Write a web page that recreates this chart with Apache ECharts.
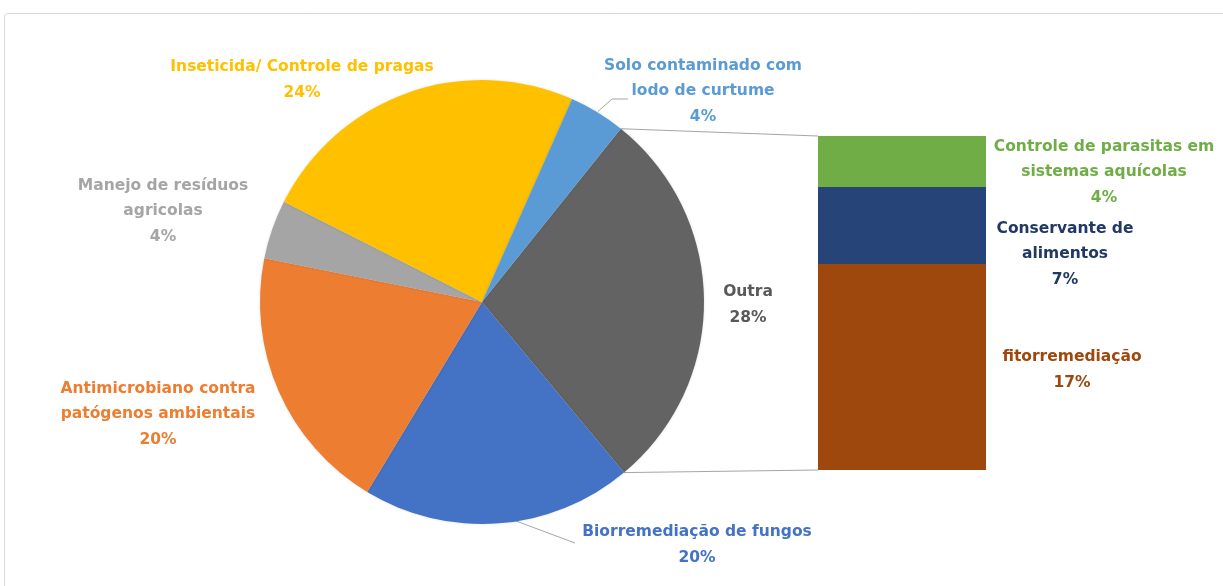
<!DOCTYPE html>
<html>
<head>
<meta charset="utf-8">
<script src="https://cdn.jsdelivr.net/npm/echarts@6/dist/echarts.min.js"></script>
<style>
html,body{margin:0;padding:0;background:#fff;}
#chart{width:1223px;height:586px;}
</style>
</head>
<body>
<div id="chart"></div>
<script>
// ---- data ----
const pieNames = ['Outra', 'Biorremediação de fungos', 'Antimicrobiano contra\npatógenos ambientais', 'Manejo de resíduos\nagricolas', 'Inseticida/ Controle de pragas', 'Solo contaminado com\nlodo de curtume'];
const pieValues = [28.2, 19.7, 19.5, 4.3, 24.2, 4.1];
const barNames = ['fitorremediação', 'Conservante de\nalimentos', 'Controle de parasitas em\nsistemas aquícolas'];
const barValues = [17.4, 6.5, 4.3];

// ---- styles / layout ----
const pieColors = ['#636363', '#4472C4', '#ED7D31', '#A5A5A5', '#FFC000', '#5B9BD5'];
const pieLabelColors = ['#595959', '#4472C4', '#ED7D31', '#A5A5A5', '#FFC000', '#5B9BD5'];
const barColors = ['#9E480E', '#264478', '#70AD47'];
const barLabelColors = ['#9E480E', '#203864', '#70AD47'];
const pieLabelPos = [[748, 305], [697, 545], [158, 414], [163, 211], [302, 80], [703, 91]];
const barLabelPos = [[1072, 370], [1065, 254], [1104, 172]];
const cx = 482, cy = 302, R = 222, startAngle = 51.3;
const gridLeft = 818, gridTop = 136, gridW = 168, gridH = 334;
const FONT = 'DejaVu Sans';
const FSIZE = 15.5;

const pieTotal = pieValues.reduce((a, b) => a + b, 0);
const barTotal = barValues.reduce((a, b) => a + b, 0);
const pct = v => Math.round(v / pieTotal * 100) + '%';

const chart = echarts.init(document.getElementById('chart'));

const series = [{
  type: 'pie',
  center: [cx, cy],
  radius: R,
  startAngle: startAngle,
  clockwise: true,
  animation: false,
  silent: true,
  itemStyle: { shadowBlur: 3, shadowColor: 'rgba(0,0,0,0.12)' },
  label: {
    show: true,
    fontFamily: FONT,
    fontSize: FSIZE,
    fontWeight: 'bold',
    lineHeight: 25.5,
    formatter: p => p.name + '\n' + pct(p.value)
  },
  labelLine: { show: false },
  labelLayout: params => {
    const p = pieLabelPos[params.dataIndex];
    return { x: p[0], y: p[1], align: 'center', verticalAlign: 'middle' };
  },
  data: pieNames.map((n, i) => ({
    name: n, value: pieValues[i],
    itemStyle: { color: pieColors[i] },
    label: { color: pieLabelColors[i] }
  }))
}];

barNames.forEach((n, i) => {
  series.push({
    type: 'bar',
    stack: 'outra',
    name: n,
    barWidth: '100%',
    animation: false,
    silent: true,
    itemStyle: { color: barColors[i] },
    label: {
      show: true,
      position: 'right',
      fontFamily: FONT,
      fontSize: FSIZE,
      fontWeight: 'bold',
      lineHeight: 25.5,
      color: barLabelColors[i],
      align: 'center',
      formatter: p => n + '\n' + pct(p.value)
    },
    labelLayout: () => ({ x: barLabelPos[i][0], y: barLabelPos[i][1], align: 'center', verticalAlign: 'middle' }),
    data: [barValues[i]]
  });
});

chart.setOption({
  backgroundColor: '#fff',
  grid: { left: gridLeft, top: gridTop, width: gridW, height: gridH },
  xAxis: { type: 'category', data: ['Outra'], show: false },
  yAxis: { type: 'value', min: 0, max: barTotal, show: false },
  series: series
});

// connectors and leader lines, computed from the pie geometry and axes
function polar(deg, r) {
  const a = deg * Math.PI / 180;
  return [cx + r * Math.cos(a), cy - r * Math.sin(a)];
}
const outraSweep = 360 * pieValues[0] / pieTotal;
const pTop = polar(startAngle, R);
const pBot = polar(startAngle - outraSweep, R);
const barTopY = chart.convertToPixel({ yAxisIndex: 0 }, barTotal);
const barBotY = chart.convertToPixel({ yAxisIndex: 0 }, 0);

let acc = 0;
const mids = pieValues.map(v => { const m = startAngle - 360 * (acc + v / 2) / pieTotal; acc += v; return m; });
const soloStart = polar(mids[5], R + 1);

chart.setOption({
  graphic: [
    { type: 'rect', shape: { x: 4.5, y: 13.5, width: 1300, height: 700, r: 3 }, style: { fill: 'none', stroke: '#d9d9d9', lineWidth: 1 }, silent: true },
    { type: 'line', shape: { x1: pTop[0], y1: pTop[1], x2: gridLeft, y2: barTopY }, style: { stroke: '#a6a6a6', lineWidth: 1 }, silent: true },
    { type: 'line', shape: { x1: pBot[0], y1: pBot[1], x2: gridLeft, y2: barBotY }, style: { stroke: '#a6a6a6', lineWidth: 1 }, silent: true },
    { type: 'polyline', shape: { points: [soloStart, [612, 99], [628, 99]] }, style: { stroke: '#a6a6a6', lineWidth: 1, fill: 'none' }, silent: true },
    { type: 'polyline', shape: { points: [[516, 521], [575, 543]] }, style: { stroke: '#a6a6a6', lineWidth: 1, fill: 'none' }, silent: true }
  ]
});
</script>
</body>
</html>
